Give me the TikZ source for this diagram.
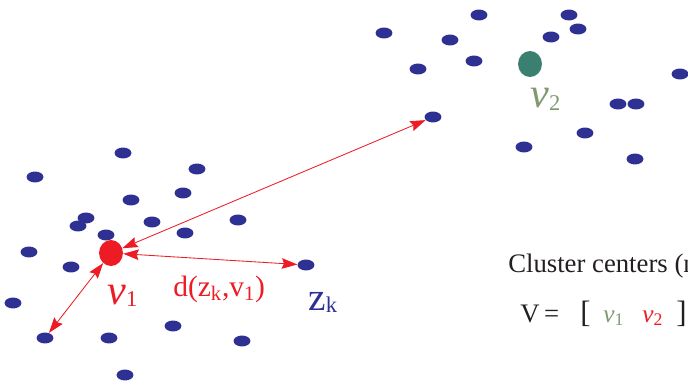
\documentclass[tikz,border=0pt]{standalone}
\usepackage{fontspec}
\setmainfont{Liberation Serif}
\usetikzlibrary{arrows.meta,shapes.geometric}
\definecolor{ink}{HTML}{231F20}
\definecolor{navy}{HTML}{2E3192}
\definecolor{scarlet}{HTML}{ED1C24}
\definecolor{pine}{HTML}{3B7F70}
\definecolor{sage}{HTML}{7F9A6E}

\begin{document}
\begin{tikzpicture}[font=\rmfamily,text=ink,
                    >={Stealth[length=11pt,width=7.5pt,inset=1.5pt]},
                    x=0.025cm,y=-0.025cm,
                    dot/.style={ellipse,fill=navy,inner sep=0pt,
                                minimum width=12pt,minimum height=7.8pt},
                    centre/.style={ellipse,inner sep=0pt,
                                   minimum width=17pt,minimum height=18.5pt},
                    link/.style={<->,scarlet,line width=.6pt}]
  % picture coordinates are pixels of a 688 x 386 frame, y downwards
  \useasboundingbox (0,0) rectangle (688,386);
  \clip (0,0) rectangle (688,386);

  % cluster around v1
  \node[dot] (a1) at (123,153) {};
  \node[dot] (a2) at (35,177) {};
  \node[dot] (a3) at (197,169) {};
  \node[dot] (a4) at (131,200) {};
  \node[dot] (a5) at (183,193) {};
  \node[dot] (a6) at (86,218) {};
  \node[dot] (a7) at (78,226) {};
  \node[dot] (a8) at (152,222) {};
  \node[dot] (a9) at (238,220) {};
  \node[dot] (a10) at (106,235) {};
  \node[dot] (a11) at (185,233) {};
  \node[dot] (a12) at (29,252) {};
  \node[dot] (a13) at (71,267) {};
  \node[dot] (zk) at (306,265) {};
  \node[dot] (a14) at (13,303) {};
  \node[dot] (a15) at (173,326) {};
  \node[dot] (low) at (45,338) {};
  \node[dot] (a16) at (109,338) {};
  \node[dot] (a17) at (242,341) {};
  \node[dot] (a18) at (125,375) {};
  \node[centre,fill=scarlet] (v1) at (111,253) {};

  % cluster around v2
  \node[dot] (b1) at (479,15) {};
  \node[dot] (b2) at (569,15) {};
  \node[dot] (b3) at (384,33) {};
  \node[dot] (b4) at (578,29) {};
  \node[dot] (b5) at (450,40) {};
  \node[dot] (b6) at (551,37) {};
  \node[dot] (b7) at (474,61) {};
  \node[dot] (b8) at (418,69) {};
  \node[dot] (b9) at (680,74) {};
  \node[dot] (far) at (433,117) {};
  \node[dot] (b10) at (618,104) {};
  \node[dot] (b11) at (636,104) {};
  \node[dot] (b12) at (585,133) {};
  \node[dot] (b13) at (524,147) {};
  \node[dot] (b14) at (635,159) {};
  \node[centre,fill=pine] (v2) at (530,64) {};

  \draw[link] (v1) -- (far);
  \draw[link] (v1) -- (zk);
  \draw[link] (v1) -- (low);

  \node[scarlet,anchor=base west,inner sep=0pt,font=\fontsize{30}{34}\selectfont]
    (v1lbl) at (107,304) {\textit{v}\raisebox{-2pt}{\fontsize{16}{18}\selectfont 1}};
  \node[sage,anchor=base west,inner sep=0pt,font=\fontsize{30}{34}\selectfont]
    (v2lbl) at (530,108) {\textit{v}\raisebox{-2pt}{\fontsize{16}{18}\selectfont 2}};
  \node[scarlet,anchor=base west,inner sep=0pt,font=\fontsize{21}{24}\selectfont]
    (dist) at (173,296) {d(z\textsubscript{k},v\textsubscript{1})};
  \node[navy,anchor=base west,inner sep=0pt,font=\fontsize{28}{30}\selectfont]
    (zklbl) at (308,310) {z\raisebox{-2pt}{\fontsize{16}{18}\selectfont k}};

  \node[anchor=base west,inner sep=0pt,font=\fontsize{19}{22}\selectfont]
    (title) at (508,272) {Cluster centers (n};
  \node[anchor=base west,inner sep=0pt,font=\fontsize{19}{22}\selectfont]
    (vec) at (520,322) {V\,=};
  \node[anchor=base west,inner sep=0pt,font=\fontsize{22}{24}\selectfont]
    (lbr) at (580,322) {[};
  \node[sage,anchor=base west,inner sep=0pt,font=\fontsize{18}{20}\selectfont]
    (c1) at (603,322) {\textit{v}\textsubscript{1}};
  \node[scarlet,anchor=base west,inner sep=0pt,font=\fontsize{18}{20}\selectfont]
    (c2) at (642,322) {\textit{v}\textsubscript{2}};
  \node[anchor=base west,inner sep=0pt,font=\fontsize{22}{24}\selectfont]
    (rbr) at (676,322) {]};
\end{tikzpicture}
\end{document}
